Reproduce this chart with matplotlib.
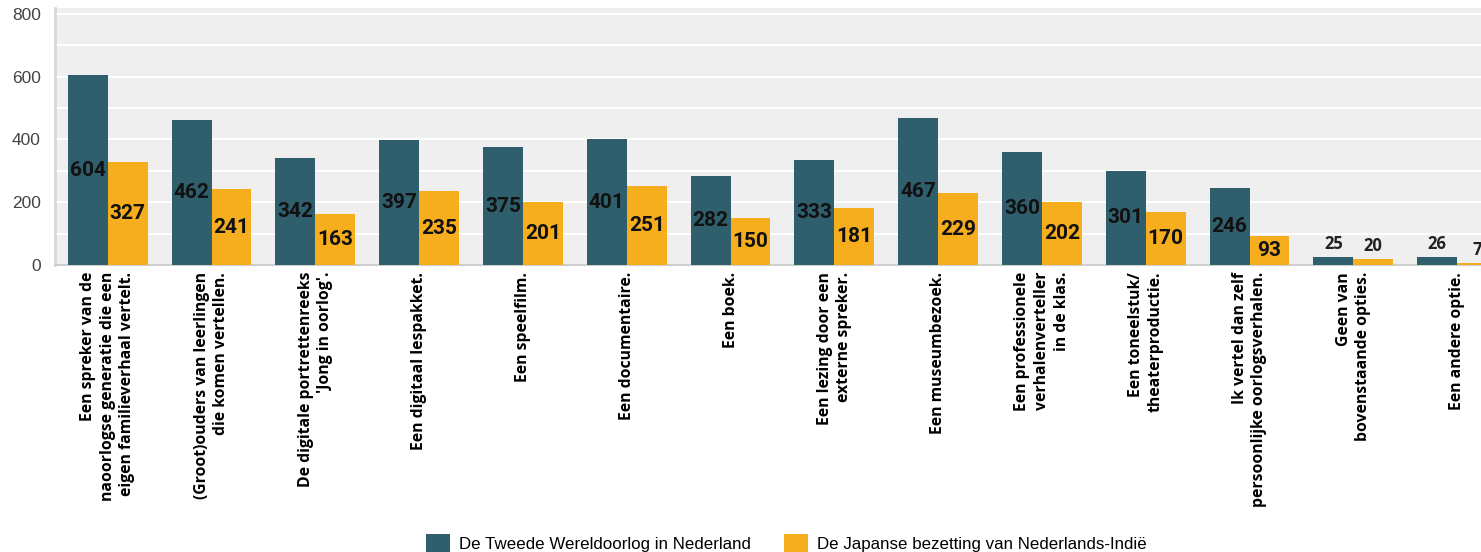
import matplotlib.pyplot as plt
from matplotlib import font_manager
import numpy as np

categories = [
    "Een spreker van de\nnaoorlogse generatie die een\neigen familieverhaal vertelt.",
    "(Groot)ouders van leerlingen\ndie komen vertellen.",
    "De digitale portrettenreeks\n'Jong in oorlog'.",
    "Een digitaal lespakket.",
    "Een speelfilm.",
    "Een documentaire.",
    "Een boek.",
    "Een lezing door een\nexterne spreker.",
    "Een museumbezoek.",
    "Een professionele\nverhalenverteller\nin de klas.",
    "Een toneelstuk/\ntheaterproductie.",
    "Ik vertel dan zelf\npersoonlijke oorlogsverhalen.",
    "Geen van\nbovenstaande opties.",
    "Een andere optie.",
]
wo2_nl = [604, 462, 342, 397, 375, 401, 282, 333, 467, 360, 301, 246, 25, 26]
japan_indie = [327, 241, 163, 235, 201, 251, 150, 181, 229, 202, 170, 93, 20, 7]
series_names = ["De Tweede Wereldoorlog in Nederland",
                "De Japanse bezetting van Nederlands-Indië"]

dark = '#2f5f6d'
orange = '#f6ae1e'

# condensed font for the numbers inside the bars, if there is one
installed = {f.name for f in font_manager.fontManager.ttflist}
if 'Liberation Sans Narrow' in installed:
    num_font, num_size = 'Liberation Sans Narrow', 16
else:
    num_font, num_size = 'Roboto', 15

fig = plt.figure(figsize=(14.81, 5.52), dpi=100)
ax = fig.add_axes([0.037, 0.520, 0.963, 0.4655])
ax.set_facecolor('#efefef')

x = np.arange(len(categories))
w = 0.385
b1 = ax.bar(x - w / 2, wo2_nl, w, color=dark, label=series_names[0], zorder=3)
b2 = ax.bar(x + w / 2, japan_indie, w, color=orange, label=series_names[1], zorder=3)

ax.set_xlim(-0.51, 13.23)
ax.set_ylim(0, 819)
ax.set_yticks(range(0, 801, 200))
ax.set_yticks(range(0, 801, 100), minor=True)
ax.grid(axis='y', which='both', color='white', linewidth=1.5, zorder=1)
ax.tick_params(axis='y', which='both', length=0, labelsize=12.5, labelcolor='#444444', pad=10)
for t in ax.get_yticklabels():
    t.set_fontfamily('Liberation Sans')
ax.tick_params(axis='x', length=0, pad=5)

ax.set_xticks(x)
ax.set_xticklabels(categories, rotation=90, ha='center', va='top',
                   multialignment='right', fontfamily='Open Sans',
                   fontweight='bold', fontsize=11.3, linespacing=1.3)

for s in ['top', 'right']:
    ax.spines[s].set_visible(False)
ax.spines['left'].set_color('#d8d8d8')
ax.spines['left'].set_linewidth(2)
ax.spines['bottom'].set_color('#cfcfcf')
ax.spines['bottom'].set_linewidth(1.5)

# value labels: centred in the bar for large values, above it for small ones
for bars in (b1, b2):
    big = [f'{v:.0f}' if v >= 50 else '' for v in bars.datavalues]
    small = [f'{v:.0f}' if v < 50 else '' for v in bars.datavalues]
    ax.bar_label(bars, labels=big, label_type='center', fontsize=num_size,
                 fontweight='bold', fontfamily=num_font, color='#111111', zorder=4)
    ax.bar_label(bars, labels=small, label_type='edge', padding=3, fontsize=12,
                 fontweight='bold', fontfamily='Open Sans', color='#222222')

fig.legend(handles=[b1, b2], loc='center', bbox_to_anchor=(0.531, 0.016),
           ncol=2, frameon=False, handlelength=1.4, handleheight=1.2,
           columnspacing=2.0, handletextpad=0.5,
           prop={'family': 'Liberation Sans', 'size': 12.2})

fig.savefig('out.png', dpi=100)
